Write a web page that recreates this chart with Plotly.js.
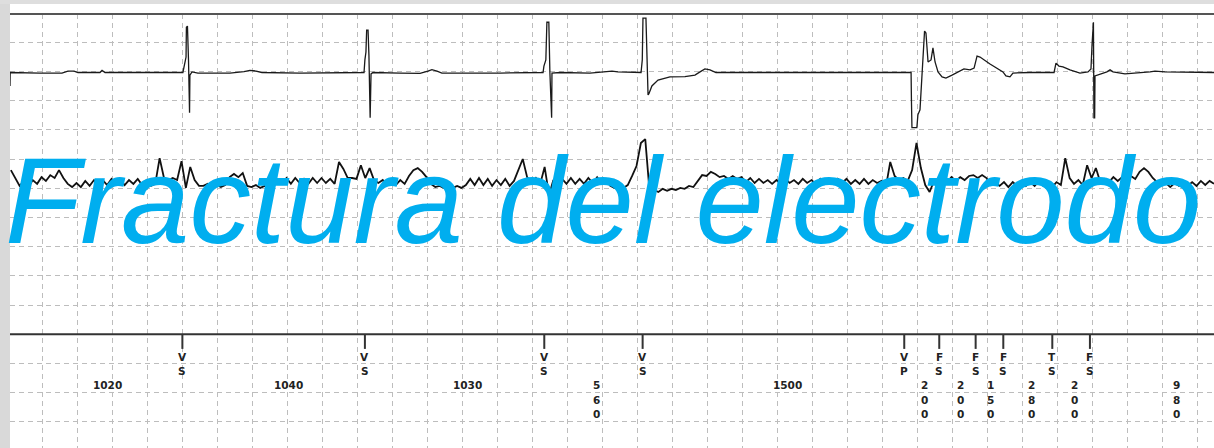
<!DOCTYPE html>
<html>
<head>
<meta charset="utf-8">
<script src="https://cdn.plot.ly/plotly-3.0.1.min.js"></script>
<style>html,body{margin:0;padding:0;background:#fff;}#chart{width:1214px;height:448px;}</style>
</head>
<body>
<div id="chart"></div>
<script>
// ---- DATA (time in ms, amplitude in grid divisions) ----
// Upper lead (EGM 1): [time, amplitude]
const leadA = [
[-185,-0.46],[-184,0],[-14,-0.02],[112,-0.02],[146,0.05],[181,0.05],[203,0],[329,0],[341,0.07],[358,0],
[803,0],[815,0.43],[821,0.53],[823,1.55],[829,1.59],[835,0.43],[838,-1.38],[841,-1.38],[843,-0.09],[855,0.02],
[889,-0.02],[1072,-0.02],[1152,0.03],[1186,0.07],[1221,0.05],[1255,0],[1472,-0.02],[1701,0],
[1838,0],[1843,0.43],[1849,0.70],[1853,1.45],[1861,1.45],[1866,0.60],[1869,-1.55],[1873,-1.55],[1878,-0.05],[1889,0],
[2043,-0.02],[2158,-0.03],[2203,0.05],[2226,0.10],[2255,0.05],[2283,-0.02],[2615,-0.02],
[2861,0],[2866,0.22],[2877,0.43],[2883,1.72],[2894,1.72],[2900,0.02],[2906,-1.55],[2910,-1.55],[2912,-0.02],[2958,0],
[3129,-0.02],[3215,0.02],[3255,0.05],[3289,0.02],[3421,0],
[3428,0.43],[3432,1.86],[3449,1.86],[3455,0.43],[3461,-0.77],[3466,-0.73],[3483,-0.46],[3518,-0.26],[3586,-0.15],
[3672,-0.14],[3729,-0.09],[3758,0.02],[3786,0.12],[3815,0.09],[3849,0],[4215,0],[4615,0],
[4964,0],[4966,-0.94],[4969,-1.89],[4997,-1.89],[5003,-1.45],[5015,-1.28],[5026,-0.09],[5032,0.70],[5041,1.42],
[5049,1.35],[5055,0.77],[5061,0.36],[5078,0.43],[5089,0.84],[5101,0.36],[5118,0.02],[5141,-0.15],[5163,-0.19],
[5198,-0.09],[5232,0.02],[5266,0.12],[5301,0.09],[5324,0.15],[5341,0.56],[5358,0.53],[5415,0.29],[5472,0.09],
[5489,0.02],[5506,-0.12],[5529,-0.15],[5546,-0.02],[5643,0],[5781,0],[5792,0.32],[5809,0.22],[5832,0.19],
[5872,0.09],[5929,-0.02],[5975,0.02],[5992,0.12],[5998,0.94],[6003,1.72],[6006,1.72],[6009,-1.55],[6013,-1.55],
[6015,-0.12],[6043,-0.07],[6083,0.02],[6101,0.09],[6118,0.02],[6186,-0.05],[6243,-0.03],[6329,0.02],[6358,0.05],
[6415,0.02],[6695,0]
];

// Lower lead (EGM 2): samples every 25 ms starting at -180 ms
const leadBStart = -180;
const leadBStep = 25;
const leadB = [
0.44,0.17,-0.10,0.07,-0.14,0.10,-0.03,0.20,0.07,0.27,0.17,0.44,0.17,-0.03,-0.14,0,-0.14,0.07,-0.10,0.10,
-0.07,0.10,-0.07,0.14,-0.03,0.10,-0.07,0.10,-0.03,0.14,-0.07,0.10,-0.10,-0.03,0.85,0.17,0.10,0.17,0.10,0.75,
-0.17,0.55,0.10,-0.10,-0.10,-0.03,-0.14,-0.07,-0.14,-0.07,0.20,0.31,0.20,0.34,-0.10,-0.14,-0.07,-0.17,-0.10,-0.17,
-0.07,0.10,-0.03,0.17,-0.03,0.17,0,0.14,-0.03,0.17,0,0.17,0,0.14,-0.03,0.72,0.48,0.17,0.17,0.14,
0.61,0.17,0.51,0.10,0,0.10,-0.07,0.07,-0.07,0.10,-0.03,0.24,0.44,0.51,0.38,0.20,-0.03,-0.14,-0.10,-0.17,
-0.10,-0.17,-0.10,-0.17,-0.07,0.14,-0.07,0.17,-0.07,0.14,-0.10,0.10,-0.07,0.14,-0.10,0.07,0.44,0.82,0.20,0,
0.17,-0.03,0.55,-0.41,0.10,-0.07,0.14,-0.03,0.17,-0.03,0.14,-0.03,0.17,0,0.20,0,0.14,-0.10,-0.17,-0.10,
-0.17,-0.07,0.24,0.58,1.37,1.50,-0.31,-0.24,-0.31,-0.20,-0.27,-0.20,-0.24,-0.17,-0.20,-0.10,-0.14,0.07,0.27,0.24,
0.38,0.31,0.20,0.24,0.14,0.24,0.14,0.20,0.03,0.17,0,0.14,0,0.10,-0.03,0.10,-0.03,0.14,0,0.10,
-0.03,0.14,0,0.10,-0.03,0.14,-0.03,0.10,-0.03,0.14,0,0.14,-0.03,0.10,-0.03,0.14,-0.03,0.10,0,0.07,
-0.14,0.72,0.24,0.10,0.17,0.07,0.44,1.37,0.51,-0.07,-0.31,0.07,0,0.17,0.03,0.20,0.07,0.20,0.10,0.24,
0.27,0.17,0.27,0.17,-0.07,0.03,-0.10,0.03,-0.14,0.03,-0.10,0.07,-0.10,0.03,-0.10,0.07,-0.10,0.03,-0.14,0.03,
-0.07,0.85,0.17,-0.03,0.10,-0.07,0.61,0.17,0.51,0.03,0.14,0.03,0.20,0.07,0.20,0.07,0.24,0.14,0.38,0.51,
0.38,0.17,0.03,-0.07,0,-0.14,0,-0.10,0.03,-0.10,0.03,-0.10,0.07,-0.07,0.07,-0.03
];

// Marker channel
const markerTimes  = [800, 1843, 2868, 3430, 4925, 5125, 5333, 5491, 5771, 5986];
const markerTop    = ['V','V','V','V','V','F','F','F','T','F'];
const markerBottom = ['S','S','S','S','P','S','S','S','S','S'];
const intervalLabels = ['1020','1040','1030','560','1500','200','200','150','280','200','980'];
const intervalTimes  = [371, 1404, 2432, 3167, 4260, 5039, 5247, 5420, 5653, 5897, 6482];

const titleText = 'Fractura del electrodo';

// ---- LAYOUT CONSTANTS ----
const X_RANGE = [-185, 6695];
const Y_RANGE = [-3.894, 10.969];
const LEAD_A_BASE = 8.966;
const LEAD_B_BASE = 5.182;
const TICK_LEN = 0.5;

// ---- TRACES ----
const traces = [];
traces.push({
  x: leadA.map(p => p[0]), y: leadA.map(p => p[1] + LEAD_A_BASE),
  mode: 'lines', line: {color: '#1a1a1a', width: 1.3}, hoverinfo: 'skip'
});
traces.push({
  x: leadB.map((v, i) => leadBStart + i * leadBStep), y: leadB.map(v => v + LEAD_B_BASE),
  mode: 'lines', line: {color: '#111111', width: 1.8}, hoverinfo: 'skip'
});
// marker channel baseline
traces.push({
  x: X_RANGE, y: [0, 0], mode: 'lines', line: {color: '#333333', width: 2}, hoverinfo: 'skip'
});
// marker ticks
const tx = [], ty = [];
markerTimes.forEach(t => { tx.push(t, t, null); ty.push(0, -TICK_LEN, null); });
traces.push({x: tx, y: ty, mode: 'lines', line: {color: '#333333', width: 2}, hoverinfo: 'skip'});

// ---- ANNOTATIONS ----
const lblFont = {family: 'DejaVu Sans', size: 10.5, color: '#222222', weight: 'bold'};
const annotations = [];
markerTimes.forEach((t, i) => {
  annotations.push({x: t, y: -0.78, xref: 'x', yref: 'y', text: markerTop[i], showarrow: false, font: lblFont});
  annotations.push({x: t, y: -1.26, xref: 'x', yref: 'y', text: markerBottom[i], showarrow: false, font: lblFont});
});
intervalLabels.forEach((lab, i) => {
  if (Number(lab) < 1000) {
    lab.split('').forEach((ch, k) => {
      annotations.push({x: intervalTimes[i], y: -1.74 - 0.5 * k, xref: 'x', yref: 'y', text: ch, showarrow: false, font: lblFont});
    });
  } else {
    annotations.push({x: intervalTimes[i], y: -1.74, xref: 'x', yref: 'y', text: lab, showarrow: false, font: lblFont});
  }
});
annotations.push({
  x: -0.006, y: 0.571, xref: 'paper', yref: 'paper', xanchor: 'left', yanchor: 'middle',
  text: titleText, showarrow: false,
  font: {family: 'Liberation Sans', size: 123, color: '#00AEEF', style: 'italic'}
});

const axisCommon = {
  showgrid: true, gridcolor: '#bdbdbd', gridwidth: 1, griddash: '5px,4px',
  zeroline: false, showticklabels: false, ticks: '', showline: false, fixedrange: true
};

const layout = {
  width: 1214, height: 448,
  margin: {l: 10, r: 0, t: 14, b: 0, pad: 0},
  paper_bgcolor: '#ffffff', plot_bgcolor: '#ffffff',
  showlegend: false,
  xaxis: Object.assign({range: X_RANGE, dtick: 200, tick0: 0}, axisCommon),
  yaxis: Object.assign({range: Y_RANGE, dtick: 1, tick0: 0}, axisCommon),
  shapes: [
    {type: 'rect', xref: 'paper', yref: 'paper', x0: -10/1204, x1: 0, y0: 0, y1: 1 + 14/434, fillcolor: '#d9d9d9', line: {width: 0}, layer: 'above'},
    {type: 'rect', xref: 'paper', yref: 'paper', x0: -10/1204, x1: 1, y0: 1 + 10/434, y1: 1 + 14/434, fillcolor: '#dedede', line: {width: 0}, layer: 'above'},
    {type: 'line', xref: 'paper', yref: 'paper', x0: 0, x1: 1, y0: 1, y1: 1, line: {color: '#555555', width: 2}, layer: 'above'}
  ],
  annotations: annotations
};

Plotly.newPlot('chart', traces, layout, {staticPlot: true, displayModeBar: false});
</script>
</body>
</html>
